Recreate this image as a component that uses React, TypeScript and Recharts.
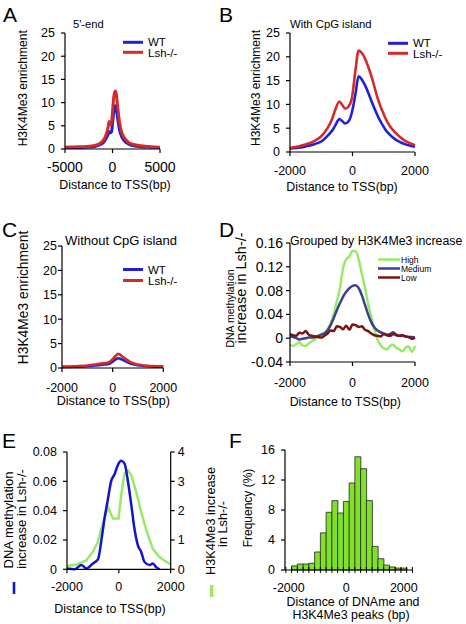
import React from 'react';
import { LineChart, Line, BarChart, Bar, XAxis, YAxis, Legend } from 'recharts';

const FONT = '"Liberation Sans", Arial, sans-serif';
const BLUE = '#2020d8';
const RED = '#d42a2a';
const HIGH = '#9ae86a';
const MED = '#3c4190';
const LOW = '#7a1414';

// A: 5'-end
const aX = [-5000, -4000, -3000, -2000, -1500, -1000, -750, -500, -350, -200, -100, 0, 150, 300, 400, 550, 750, 1000, 1500, 2000, 3000, 4000, 5000];
const aWT = [0.3, 0.3, 0.35, 0.5, 0.8, 1.3, 2.0, 3.0, 3.7, 3.5, 3.7, 5.5, 8.3, 9.3, 8.6, 6.5, 4.0, 2.5, 1.3, 0.8, 0.5, 0.4, 0.3];
const aLsh = [0.4, 0.45, 0.5, 0.7, 1.0, 1.8, 2.7, 4.3, 5.9, 5.2, 5.6, 8.0, 11.5, 12.5, 11.8, 9.0, 5.6, 3.4, 1.8, 1.1, 0.7, 0.5, 0.4];

// B: with CpG island
const bX = [-2000, -1800, -1600, -1400, -1200, -1000, -800, -650, -550, -420, -330, -235, -120, -20, 90, 195, 300, 410, 520, 625, 730, 840, 950, 1055, 1200, 1380, 1550, 1700, 1850, 2000];
const bWT = [0.7, 0.85, 1.0, 1.3, 1.7, 2.2, 3.4, 4.5, 5.6, 6.9, 6.5, 6.0, 6.5, 8.3, 12.0, 15.9, 15.2, 13.9, 12.2, 10.4, 8.7, 7.1, 5.8, 4.7, 3.6, 2.6, 2.0, 1.6, 1.3, 1.1];
const bLsh = [0.85, 1.1, 1.4, 1.8, 2.4, 3.3, 5.0, 7.0, 8.9, 10.6, 9.9, 9.1, 9.6, 11.3, 16.9, 21.3, 20.8, 19.5, 17.6, 15.5, 13.0, 10.6, 8.7, 7.1, 5.4, 4.0, 3.0, 2.3, 1.8, 1.4];

// C: without CpG island
const cX = [-2000, -1500, -1000, -700, -400, -250, -100, 0, 100, 220, 350, 500, 700, 1000, 1500, 2000];
const cWT = [0.2, 0.25, 0.35, 0.5, 0.7, 0.75, 0.95, 1.3, 1.7, 2.0, 1.8, 1.4, 0.9, 0.55, 0.3, 0.25];
const cLsh = [0.3, 0.35, 0.5, 0.7, 0.95, 1.0, 1.3, 1.8, 2.4, 2.9, 2.5, 1.9, 1.2, 0.7, 0.4, 0.35];

// D: grouped by H3K4Me3 increase
const dX = [-2000, -1900, -1800, -1700, -1600, -1500, -1400, -1300, -1200, -1100, -1000, -900, -800, -700, -600, -500, -400, -300, -200, -100, 0, 100, 200, 300, 400, 500, 600, 700, 800, 900, 1000, 1100, 1200, 1300, 1400, 1500, 1600, 1700, 1800, 1900, 2000];
const dHigh = [-0.011, -0.013, -0.010, -0.007, -0.012, -0.013, -0.009, -0.005, -0.002, 0.002, 0.006, 0.010, 0.015, 0.025, 0.041, 0.062, 0.085, 0.118, 0.133, 0.137, 0.147, 0.146, 0.132, 0.108, 0.085, 0.058, 0.036, 0.015, -0.002, -0.012, -0.017, -0.019, -0.013, -0.011, -0.016, -0.019, -0.022, -0.016, -0.014, -0.023, -0.013];
const dMed = [0.003, 0.002, 0.0, -0.002, -0.001, 0.0, 0.001, 0.001, 0.002, 0.004, 0.006, 0.008, 0.013, 0.022, 0.034, 0.047, 0.059, 0.070, 0.078, 0.084, 0.088, 0.089, 0.084, 0.072, 0.056, 0.040, 0.027, 0.018, 0.013, 0.010, 0.008, 0.006, 0.007, 0.010, 0.006, 0.004, 0.004, 0.003, 0.002, 0.002, 0.001];
const dLow = [0.007, 0.005, 0.004, 0.009, 0.008, 0.012, 0.006, 0.004, 0.003, 0.002, 0.001, 0.004, 0.008, 0.013, 0.012, 0.020, 0.019, 0.015, 0.021, 0.014, 0.023, 0.022, 0.019, 0.020, 0.014, 0.012, 0.008, 0.005, 0.004, 0.003, 0.007, 0.005, 0.004, 0.007, 0.005, 0.004, 0.005, 0.003, 0.002, -0.001, 0.001];

// E: DNA methylation (left) vs H3K4Me3 (right)
const eMethX = [-2000, -1700, -1450, -1250, -1000, -800, -680, -550, -420, -300, -160, -40, 90, 220, 350, 480, 600, 740, 860, 990, 1190, 1310, 1440, 1570];
const eMeth = [0.0005, 0, 0.003, 0.0005, 0.004, 0.007, 0.019, 0.035, 0.048, 0.06, 0.065, 0.071, 0.074, 0.072, 0.06, 0.044, 0.028, 0.016, 0.012, 0.005, 0.003, 0.004, 0.0015, 0];
const eK4X = [-2000, -1640, -1260, -1000, -810, -620, -420, -230, -10, 90, 220, 350, 480, 670, 860, 1060, 1310, 1570, 1830, 2000];
const eK4 = [0.11, 0.16, 0.3, 0.6, 0.93, 1.56, 2.13, 1.73, 1.73, 2.53, 3.27, 3.38, 3.2, 2.64, 1.96, 1.33, 0.7, 0.42, 0.25, 0.18];

// F: distance histogram
const fBins = [-1800, -1600, -1400, -1200, -1000, -800, -600, -400, -200, 0, 200, 400, 600, 800, 1000, 1200, 1400, 1600, 1800, 2000];
const fFreq = [0.55, 0.8, 0.8, 0.9, 2.4, 4.95, 7.7, 9.25, 7.6, 9.15, 11.6, 15.1, 13.5, 9.25, 3.15, 1.5, 0.65, 0.4, 0.25, 0.25];
const fTicks = [-2100, -2000, -1900, -1700, -1500, -1300, -1100, -900, -700, -500, -300, -100, 0, 100, 300, 500, 700, 900, 1100, 1300, 1500, 1700, 1900, 2000, 2100, 2300];
const fLabels = [-2000, 0, 2000];

const pairKeys = [{ name: 'WT', color: BLUE }, { name: 'Lsh-/-', color: RED }];
const groupKeys = [{ name: 'High', color: HIGH }, { name: 'Medium', color: MED }, { name: 'Low', color: LOW }];

const rows = (xs: number[], cols: Record<string, number[]>) =>
  xs.map((x, i) => { const r: any = { x }; for (const k in cols) r[k] = cols[k][i]; return r; });

type Box = { l: number; t: number; r: number; b: number };
function frame(p: Box, yw: number, mr = 16, mt = 10, xh = 32, rw = 0) {
  return {
    style: { position: 'absolute' as const, left: p.l - yw, top: p.t - mt },
    width: yw + (p.r - p.l) + mr + rw,
    height: mt + (p.b - p.t) + xh,
    margin: { top: mt, right: mr, bottom: 0, left: 0 },
  };
}

const axisLine = { stroke: '#000', strokeWidth: 1.2 };
const tickFont = (fs = 12.5) => ({ fill: '#000', fontSize: fs, fontFamily: FONT });

function LineKey({ items, lineW, rowH, fontSize, gap, sw }: any) {
  return (
    <div style={{ fontFamily: FONT, fontSize, color: '#000' }}>
      {items.map((e: any) => (
        <div key={e.name} style={{ display: 'flex', alignItems: 'center', height: rowH, whiteSpace: 'nowrap' }}>
          <svg width={lineW} height={rowH}><line x1={0} x2={lineW} y1={rowH / 2} y2={rowH / 2} stroke={e.color} strokeWidth={sw} /></svg>
          <span style={{ marginLeft: gap }}>{e.name}</span>
        </div>
      ))}
    </div>
  );
}

function key(fr: any, x: number, y: number, items: any[], o: { lineW: number; rowH: number; fontSize: number; gap: number; sw: number }) {
  return (
    <Legend layout="vertical" align="center" verticalAlign="middle"
      content={() => <LineKey items={items} {...o} />}
      wrapperStyle={{ position: 'absolute', left: x - fr.style.left, top: y - fr.style.top - o.rowH / 2, width: 'auto', height: 'auto' }} />
  );
}

function FTick({ x, y, payload }: any) {
  const v = payload.value;
  if (fLabels.includes(v)) {
    return <text x={x} y={y + 22} textAnchor="middle" fill="#000" fontSize={12.5} fontFamily={FONT}>{v}</text>;
  }
  return <line x1={x} x2={x} y1={y - 3} y2={y + 3} stroke="#000" strokeWidth={1} />;
}

function PairChart({ box, data, xDomain, xTicks, legendAt, sw, xfs, xm, ym }: any) {
  const fr = frame(box, 38);
  return (
    <div style={fr.style}>
      <LineChart width={fr.width} height={fr.height} data={data} margin={fr.margin}>
        <XAxis dataKey="x" type="number" domain={xDomain} ticks={xTicks} interval={0} axisLine={axisLine} tickLine={axisLine} tickSize={4} tickMargin={xm} tick={tickFont(xfs)} height={32} />
        <YAxis type="number" domain={[0, 25]} ticks={[0, 5, 10, 15, 20, 25]} axisLine={axisLine} tickLine={axisLine} tickSize={4} tickMargin={ym} tick={tickFont()} width={38} />
        {key(fr, legendAt[0], legendAt[1], pairKeys, { lineW: 20, rowH: legendAt[2], fontSize: 11.5, gap: 5, sw: 3 })}
        <Line dataKey="wt" name="WT" stroke={BLUE} strokeWidth={sw} dot={false} type="monotone" isAnimationActive={false} />
        <Line dataKey="lsh" name="Lsh-/-" stroke={RED} strokeWidth={sw} dot={false} type="monotone" isAnimationActive={false} />
      </LineChart>
    </div>
  );
}

function GroupChart() {
  const box = { l: 290, t: 243.3, r: 415, b: 362.3 };
  const fr = frame(box, 44, 14);
  const data = rows(dX, { high: dHigh, med: dMed, low: dLow });
  return (
    <div style={fr.style}>
      <LineChart width={fr.width} height={fr.height} data={data} margin={fr.margin}>
        <XAxis dataKey="x" type="number" domain={[-2000, 2000]} ticks={[-2000, 0, 2000]} interval={0} axisLine={axisLine} tickLine={axisLine} tickSize={4} tickMargin={12} tick={tickFont()} height={32} />
        <YAxis type="number" domain={[-0.04, 0.16]} ticks={[-0.04, 0, 0.04, 0.08, 0.12, 0.16]} interval={0} axisLine={axisLine} tickLine={axisLine} tickSize={4} tickMargin={3} tick={tickFont(14)} width={44} />
        {key(fr, 378, 260, groupKeys, { lineW: 22, rowH: 9, fontSize: 8.5, gap: 1, sw: 2.5 })}
        <Line dataKey="high" name="High" stroke={HIGH} strokeWidth={2.5} dot={false} type="monotone" isAnimationActive={false} />
        <Line dataKey="med" name="Medium" stroke={MED} strokeWidth={2.5} dot={false} type="monotone" isAnimationActive={false} />
        <Line dataKey="low" name="Low" stroke={LOW} strokeWidth={2.5} dot={false} type="monotone" isAnimationActive={false} />
      </LineChart>
    </div>
  );
}

function DualChart() {
  const box = { l: 67.3, t: 451.7, r: 171, b: 569 };
  const fr = frame(box, 40, 0, 10, 30, 25);
  const meth = rows(eMethX, { meth: eMeth });
  const k4 = rows(eK4X, { k4: eK4 });
  return (
    <div style={fr.style}>
      <LineChart width={fr.width} height={fr.height} margin={fr.margin}>
        <XAxis dataKey="x" type="number" domain={[-2000, 2000]} ticks={[-2000, 0, 2000]} interval={0} axisLine={axisLine} tickLine={axisLine} tickSize={4} tickMargin={9} tick={tickFont()} height={30} allowDuplicatedCategory={false} />
        <YAxis yAxisId="l" type="number" domain={[0, 0.08]} ticks={[0, 0.02, 0.04, 0.06, 0.08]} interval={0} axisLine={axisLine} tickLine={axisLine} tickSize={4} tickMargin={6} tick={tickFont()} width={40} />
        <YAxis yAxisId="r" orientation="right" type="number" domain={[0, 4]} ticks={[0, 1, 2, 3, 4]} interval={0} axisLine={axisLine} tickLine={axisLine} tickSize={4} tickMargin={3} tick={tickFont()} width={25} />
        <Line yAxisId="r" data={k4} dataKey="k4" stroke={HIGH} strokeWidth={2.5} dot={false} type="linear" isAnimationActive={false} />
        <Line yAxisId="l" data={meth} dataKey="meth" stroke="#1414c8" strokeWidth={2.5} dot={false} type="monotone" isAnimationActive={false} />
      </LineChart>
    </div>
  );
}

function HistChart() {
  const box = { l: 285, t: 450, r: 412.7, b: 570 };
  const fr = frame(box, 34, 14);
  const data = rows(fBins, { freq: fFreq });
  return (
    <div style={fr.style}>
      <BarChart width={fr.width} height={fr.height} data={data} margin={fr.margin} barCategoryGap={0}>
        <XAxis dataKey="x" type="number" domain={[-2130, 2310]} ticks={fTicks} interval={0} axisLine={axisLine} tickLine={false} tickSize={0} tickMargin={0} tick={<FTick />} height={32} />
        <YAxis type="number" domain={[0, 16]} ticks={[0, 4, 8, 12, 16]} interval={0} axisLine={axisLine} tickLine={axisLine} tickSize={4} tickMargin={6} tick={tickFont()} width={34} />
        <Bar dataKey="freq" fill="#80e02a" stroke="#222" strokeWidth={0.8} isAnimationActive={false} />
      </BarChart>
    </div>
  );
}

function T({ x, y, s, fs, anchor = 'start', rot = false }: any) {
  return (
    <text transform={`translate(${x},${y})${rot ? ' rotate(-90)' : ''}`} textAnchor={anchor} fontSize={fs} fontFamily={FONT} fill="#000">{s}</text>
  );
}

export default function App() {
  return (
    <div style={{ position: 'absolute', left: 0, top: 0, width: 466, height: 624, background: '#fff', fontFamily: FONT }}>
      <PairChart box={{ l: 65, t: 33, r: 160, b: 149 }} data={rows(aX, { wt: aWT, lsh: aLsh })} xDomain={[-5000, 5000]} xTicks={[-5000, 0, 5000]} legendAt={[123, 42, 10.6]} sw={3} xfs={14} xm={9} ym={6} />
      <PairChart box={{ l: 290, t: 33.3, r: 415, b: 152.3 }} data={rows(bX, { wt: bWT, lsh: bLsh })} xDomain={[-2000, 2000]} xTicks={[-2000, 0, 2000]} legendAt={[388, 43, 10.6]} sw={2.6} xfs={12.5} xm={10.5} ym={6} />
      <PairChart box={{ l: 62, t: 245.7, r: 163.3, b: 367.7 }} data={rows(cX, { wt: cWT, lsh: cLsh })} xDomain={[-2000, 2000]} xTicks={[-2000, 0, 2000]} legendAt={[123, 270, 11]} sw={2.6} xfs={12.5} xm={11.5} ym={1} />
      <GroupChart />
      <DualChart />
      <HistChart />
      <svg width={466} height={624} style={{ position: 'absolute', left: 0, top: 0, pointerEvents: 'none' }}>
        <T x={3} y={22} s="A" fs={21} />
        <T x={219} y={22} s="B" fs={21} />
        <T x={2} y={237} s="C" fs={21} />
        <T x={219} y={237} s="D" fs={21} />
        <T x={2} y={448} s="E" fs={21} />
        <T x={229} y={448} s="F" fs={21} />

        <T x={73} y={28} s="5'-end" fs={11.2} />
        <T x={290} y={28} s="With CpG island" fs={11.3} />
        <T x={65} y={244.5} s="Without CpG island" fs={13} />
        <T x={290} y={244.5} s="Grouped by H3K4Me3 increase" fs={12.3} />

        <T x={26.8} y={88.3} s="H3K4Me3 enrichment" fs={12} anchor="middle" rot />
        <T x={259.8} y={88} s="H3K4Me3 enrichment" fs={12} anchor="middle" rot />
        <T x={28} y={297.5} s="H3K4Me3 enrichment" fs={13.8} anchor="middle" rot />
        <T x={234} y={308.5} s="DNA methylation" fs={10.5} anchor="middle" rot />
        <T x={246} y={288} s="increase in Lsh-/-" fs={14.5} anchor="middle" rot />
        <T x={12.7} y={520} s="DNA  methylation" fs={13} anchor="middle" rot />
        <T x={25.7} y={519} s="increase in Lsh-/-" fs={13} anchor="middle" rot />
        <T x={214.6} y={521} s="H3K4Me3 increase" fs={12.7} anchor="middle" rot />
        <T x={227} y={524} s="in Lsh-/-" fs={12.7} anchor="middle" rot />
        <T x={252.3} y={508} s="Frequency (%)" fs={12} anchor="middle" rot />

        <T x={115} y={189} s="Distance to TSS(bp)" fs={12.4} anchor="middle" />
        <T x={342} y={190.5} s="Distance to TSS(bp)" fs={12.4} anchor="middle" />
        <T x={113.3} y={405} s="Distance to TSS(bp)" fs={12.6} anchor="middle" />
        <T x={345.3} y={406} s="Distance to TSS(bp)" fs={12.4} anchor="middle" />
        <T x={110} y={613} s="Distance to TSS(bp)" fs={12.4} anchor="middle" />
        <T x={353} y={605.5} s="Distance of  DNAme and" fs={12.4} anchor="middle" />
        <T x={351} y={619} s="H3K4Me3 peaks (bp)" fs={12.4} anchor="middle" />

        <rect x={12.7} y={582} width={2.6} height={12} fill="#1414c8" />
        <rect x={210} y={585} width={3.3} height={12} fill={HIGH} />
      </svg>
    </div>
  );
}
